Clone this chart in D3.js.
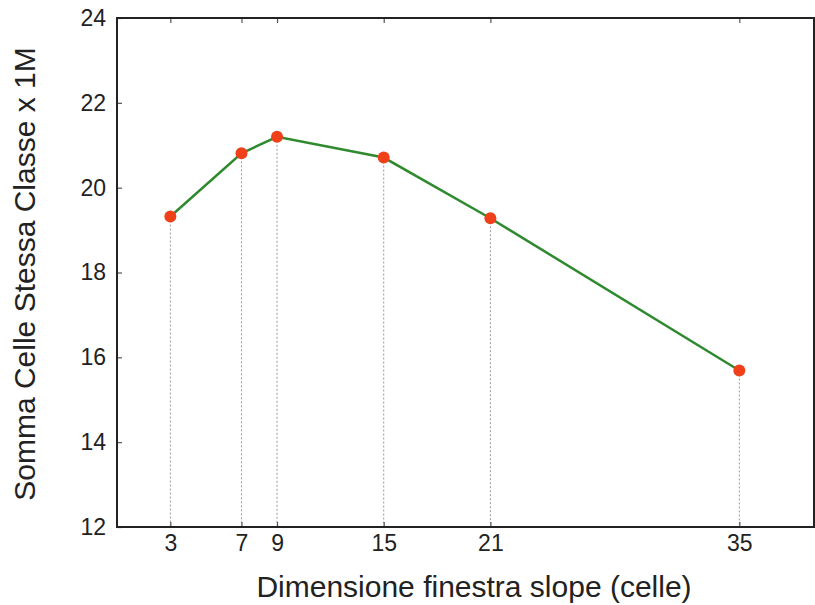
<!DOCTYPE html>
<html>
<head>
<meta charset="UTF-8">
<script src="https://cdn.jsdelivr.net/npm/d3@7"></script>
<style>
body{
    margin:0;
    background:#fff;
    font-family: "Liberation Sans", Arial, Helvetica, sans-serif;
}
</style>
</head>
<body>
<script>
// data
var windowSizes = [3, 7, 9, 15, 21, 35]
var sums = [19.32, 20.81, 21.2, 20.71, 19.28, 15.69]
var yTicks = [12, 14, 16, 18, 20, 22, 24]

var width = 815, height = 605
var plotL = 117, plotR = 814, plotT = 18, plotB = 527

var svg = d3.select('body').append('svg')
    .attr('width', width)
    .attr('height', height)

var x = d3.scaleLinear().domain([0, 39.2]).range([plotL, plotR])
var y = d3.scaleLinear().domain([12, 24]).range([plotB, plotT])

// dotted drop lines
svg.append('g').selectAll('line')
    .data(windowSizes)
    .enter().append('line')
    .attr('x1', function(d){ return x(d) })
    .attr('x2', function(d){ return x(d) })
    .attr('y1', function(d, i){ return y(sums[i]) })
    .attr('y2', plotB)
    .attr('stroke', '#999')
    .attr('stroke-width', 1)
    .attr('stroke-dasharray', '2,2')

// axes (inward ticks)
svg.append('g')
    .attr('transform', 'translate(0,' + plotB + ')')
    .call(d3.axisBottom(x).tickValues(windowSizes).tickSize(-5).tickPadding(8))
svg.append('g')
    .attr('transform', 'translate(0,' + plotT + ')')
    .call(d3.axisTop(x).tickValues(windowSizes).tickSize(-5).tickFormat(''))
svg.append('g')
    .attr('transform', 'translate(' + plotL + ',0)')
    .call(d3.axisLeft(y).tickValues(yTicks).tickSize(-5).tickPadding(11))

svg.selectAll('.domain').remove()
svg.selectAll('.tick line').attr('stroke', '#555').attr('stroke-width', 1.2)
svg.selectAll('.tick text')
    .attr('font-size', 23)
    .attr('fill', '#222')
    .attr('font-family', '"Liberation Sans", Arial, sans-serif')

// frame
svg.append('rect')
    .attr('x', plotL).attr('y', plotT)
    .attr('width', plotR - plotL).attr('height', plotB - plotT)
    .attr('fill', 'none')
    .attr('stroke', '#222')
    .attr('stroke-width', 2)

// line
var line = d3.line()
    .x(function(d, i){ return x(windowSizes[i]) })
    .y(function(d){ return y(d) })

svg.append('path')
    .datum(sums)
    .attr('d', line)
    .attr('fill', 'none')
    .attr('stroke', '#2f8a2f')
    .attr('stroke-width', 2.5)

svg.append('g').selectAll('circle')
    .data(sums)
    .enter().append('circle')
    .attr('cx', function(d, i){ return x(windowSizes[i]) })
    .attr('cy', function(d){ return y(d) })
    .attr('r', 6)
    .attr('fill', '#f0401a')

// labels
svg.append('text')
    .attr('x', 474)
    .attr('y', 597)
    .attr('text-anchor', 'middle')
    .attr('font-size', 30)
    .attr('fill', '#222')
    .text('Dimensione finestra slope (celle)')

svg.append('text')
    .attr('transform', 'translate(35,274) rotate(-90)')
    .attr('text-anchor', 'middle')
    .attr('font-size', 30)
    .attr('fill', '#222')
    .text('Somma Celle Stessa Classe x 1M')
</script>
</body>
</html>
